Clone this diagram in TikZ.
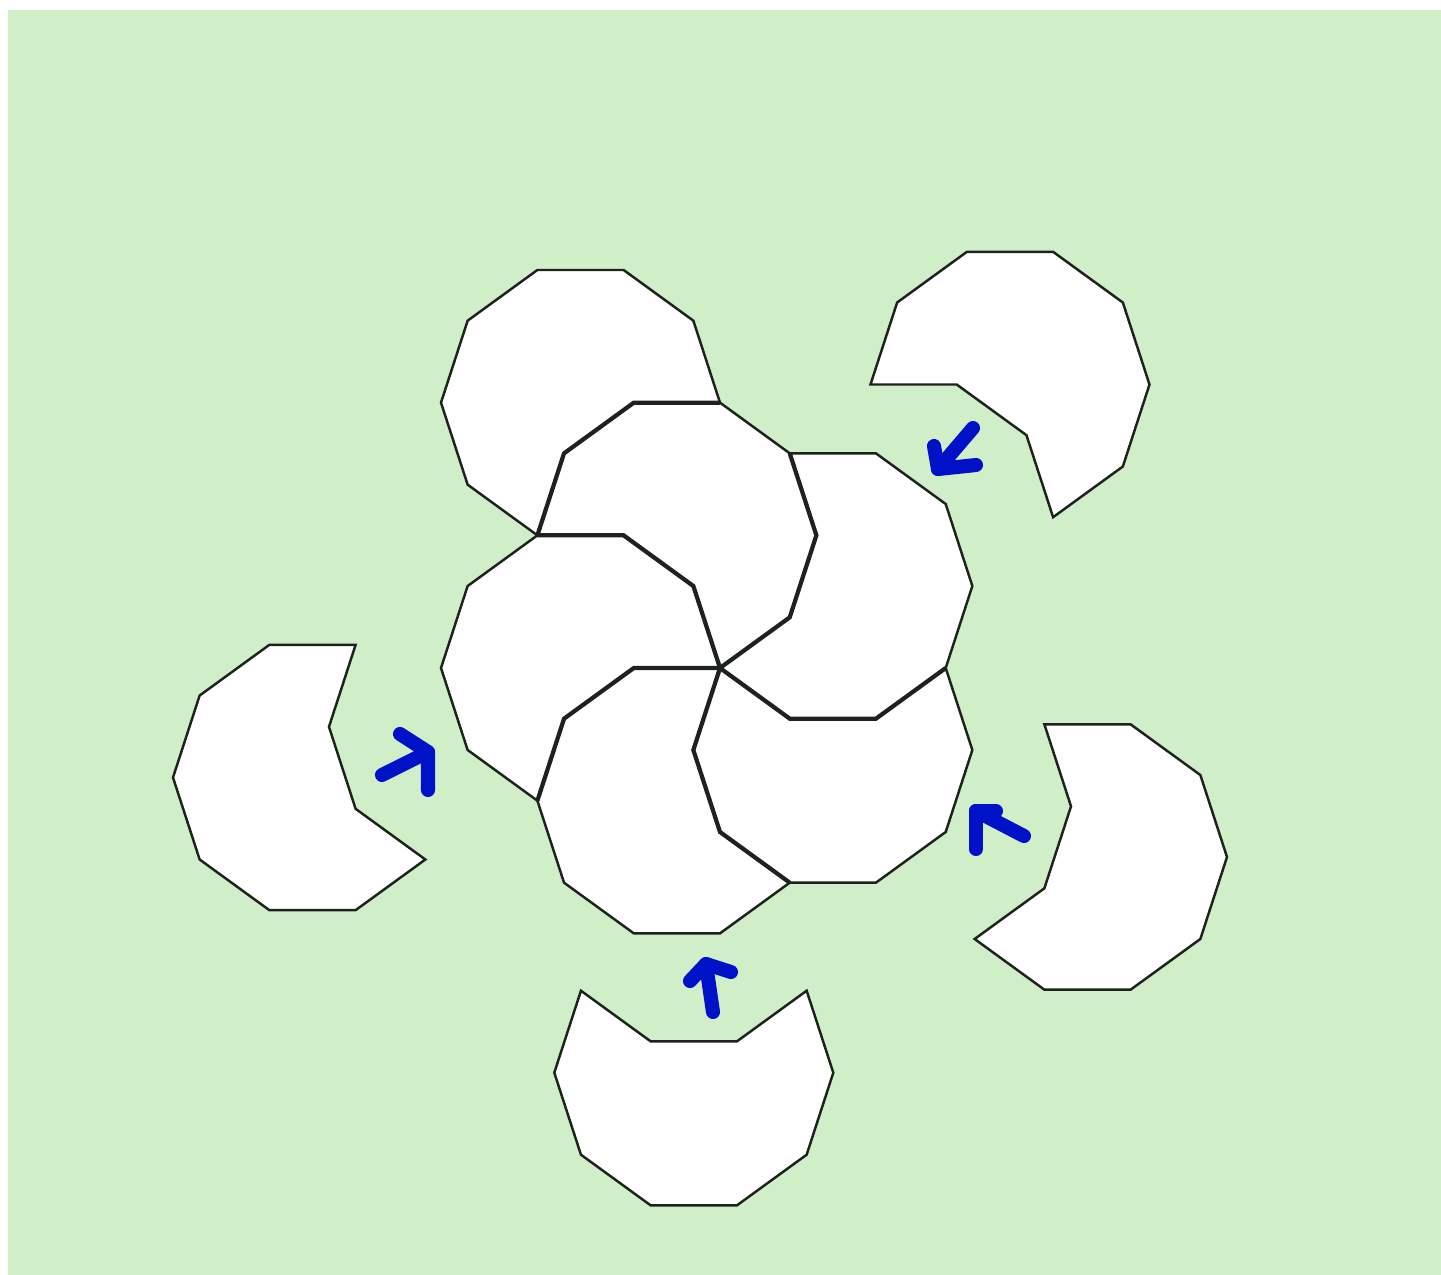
\documentclass[tikz,border=0pt]{standalone}
\usetikzlibrary{calc}
\definecolor{bggreen}{RGB}{208,238,199}
\definecolor{edge}{RGB}{30,34,30}
\definecolor{pen}{RGB}{0,18,200}
\def\R{139.5}
\def\D{164}
\newcommand\cres[2]{%
  \filldraw[piece] ($(#1)+(#2+54:\R)$) -- ($(#1)+(#2+90:\R)$) -- ($(#1)+(#2+126:\R)$) -- ($(#1)+(#2+162:\R)$) -- ($(#1)+(#2+198:\R)$) -- ($(#1)+(#2+234:\R)$) -- ($(#1)+(#2+270:\R)$) -- ($(#1)+(#2+306:\R)$) -- ($(#1)+(#2:\D)+(#2+198:\R)$) -- ($(#1)+(#2:\D)+(#2+162:\R)$) -- cycle;}
\newcommand\bite[2]{%
  \draw[inner] ($(#1)+(#2+306:\R)$) -- ($(#1)+(#2:\D)+(#2+198:\R)$) -- ($(#1)+(#2:\D)+(#2+162:\R)$) -- ($(#1)+(#2+54:\R)$);}
\tikzset{
  piece/.style={fill=white,draw=edge,line width=0.7pt,line join=miter},
  inner/.style={draw=edge,line width=1.2pt,line join=miter},
  arrowstroke/.style={draw=pen,line width=4pt,line cap=round,line join=round}
}
\begin{document}
\begin{tikzpicture}[x=0.01cm,y=0.01cm]
\useasboundingbox (0,0) rectangle (1441,-1275);
\fill[bggreen] (8,-10) rectangle (1441,-1275);
% flower
\coordinate (P) at (720,-668);
\coordinate (B) at ($(P)+(108:\R)$);
\coordinate (C) at ($(P)+(36:\R)$);
\coordinate (D) at ($(P)+(-36:\R)$);
\coordinate (E) at ($(P)+(-108:\R)$);
\coordinate (F) at ($(P)+(180:\R)$);
\coordinate (A) at ($(F)+(90:265.34)$);
% outer crescents
\coordinate (G) at (1010,-384.5);
\coordinate (H) at (312.5,-777.5);
\coordinate (I) at (1087.5,-857);
\coordinate (J) at (693.8,-1072.7);
\cres{A}{306}
\cres{B}{234}
\cres{C}{162}
\cres{D}{90}
\cres{E}{18}
\cres{F}{306}
\bite{A}{306}
\bite{B}{234}
\bite{C}{162}
\bite{D}{90}
\bite{E}{18}
\bite{F}{306}
\cres{G}{234}
\cres{H}{18}
\cres{I}{162}
\cres{J}{90}
% hand-drawn arrows
\coordinate (g1) at (973,-428);
\coordinate (g2) at (938,-469);
\coordinate (g3) at (934,-446);
\coordinate (g4) at (976,-465);
\draw[arrowstroke] (g1) -- (g2);
\draw[arrowstroke] (g3) -- (g2) -- (g4);
\coordinate (h1) at (382,-775);
\coordinate (h2) at (428,-752);
\coordinate (h3) at (400,-734);
\coordinate (h4) at (428,-790);
\draw[arrowstroke] (h1) -- (h2);
\draw[arrowstroke] (h3) -- (h2) -- (h4);
\coordinate (i1) at (1024,-836);
\coordinate (i2) at (976,-811);
\coordinate (i3) at (996,-811);
\coordinate (i4) at (976,-849);
\draw[arrowstroke] (i1) -- (i2);
\draw[arrowstroke] (i3) -- (i2) -- (i4);
\coordinate (j1) at (713,-1012);
\coordinate (j2) at (706,-964);
\coordinate (j3) at (690,-981);
\coordinate (j4) at (731,-972);
\draw[arrowstroke] (j1) -- (j2);
\draw[arrowstroke] (j3) -- (j2) -- (j4);
\end{tikzpicture}
\end{document}
